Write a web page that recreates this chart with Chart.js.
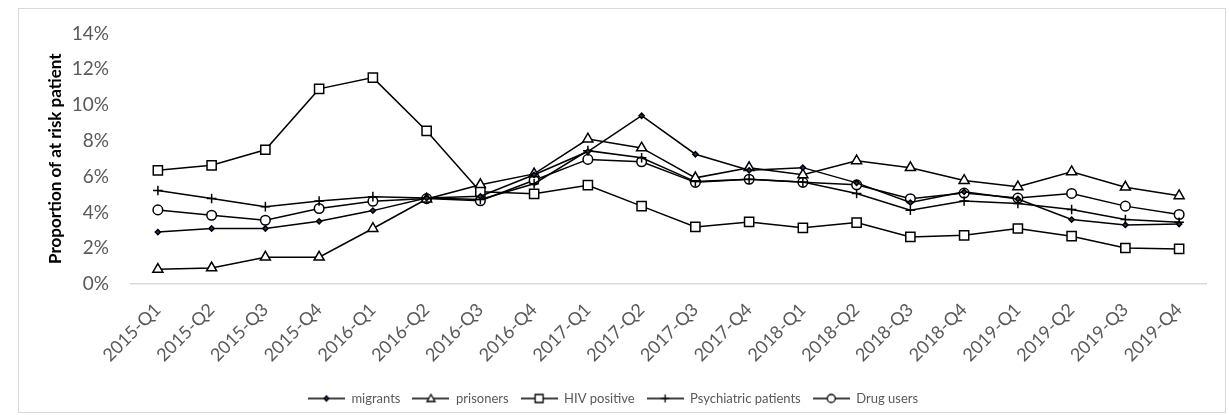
<!DOCTYPE html>
<html>
<head>
<meta charset="utf-8">
<script src="https://cdn.jsdelivr.net/npm/chart.js@4.4.1/dist/chart.umd.min.js"></script>
<style>
  html, body { margin: 0; padding: 0; background: #fff; }
  #wrap { position: relative; width: 1229px; height: 415px; }
  #frame { position: absolute; left: 18px; top: 8px; width: 1208px; height: 405px; border: 1px solid #d9d9d9; box-sizing: border-box; pointer-events: none; }
  canvas { position: absolute; left: 0; top: 0; }
</style>
</head>
<body>
<div id="wrap">
  <canvas id="lineChart" width="1229" height="415"></canvas>
  <div id="frame"></div>
</div>
<script>
// Quarters on the x axis
const quarters = [
  "2015-Q1", "2015-Q2", "2015-Q3", "2015-Q4",
  "2016-Q1", "2016-Q2", "2016-Q3", "2016-Q4",
  "2017-Q1", "2017-Q2", "2017-Q3", "2017-Q4",
  "2018-Q1", "2018-Q2", "2018-Q3", "2018-Q4",
  "2019-Q1", "2019-Q2", "2019-Q3", "2019-Q4"
];

// Values in percent
const migrants = [2.9, 3.1, 3.1, 3.5, 4.1, 4.8, 4.9, 6.1, 7.4, 9.4, 7.25, 6.35, 6.5, 5.65, 4.55, 5.15, 4.75, 3.6, 3.3, 3.35];
const prisoners = [0.82, 0.9, 1.5, 1.5, 3.1, 4.75, 5.55, 6.15, 8.1, 7.6, 5.93, 6.5, 6.1, 6.88, 6.5, 5.78, 5.43, 6.27, 5.41, 4.93];
const hivPositive = [6.35, 6.63, 7.5, 10.9, 11.53, 8.55, 5.15, 5.04, 5.52, 4.35, 3.19, 3.47, 3.14, 3.43, 2.63, 2.72, 3.1, 2.67, 2.01, 1.96];
const psychiatric = [5.22, 4.78, 4.32, 4.64, 4.88, 4.8, 4.72, 5.6, 7.45, 7.05, 5.72, 5.85, 5.7, 5.06, 4.12, 4.64, 4.5, 4.16, 3.6, 3.45];
const drugUsers = [4.14, 3.84, 3.56, 4.22, 4.62, 4.77, 4.65, 5.8, 6.96, 6.83, 5.68, 5.85, 5.68, 5.54, 4.76, 5.08, 4.8, 5.06, 4.35, 3.88];

// Y axis ticks (percent)
const yMin = 0;
const yMax = 14;
const yStep = 2;

Chart.defaults.font.family = "Lato";

// Legend sample: short line with the marker in the middle
function legendSample(style, fill) {
  const c = document.createElement("canvas");
  c.width = 37;
  c.height = 14;
  const ctx = c.getContext("2d");
  ctx.strokeStyle = "#000";
  ctx.lineWidth = 1.5;
  ctx.beginPath();
  ctx.moveTo(0, 7);
  ctx.lineTo(37, 7);
  ctx.stroke();
  ctx.fillStyle = fill;
  ctx.lineWidth = 1.3;
  ctx.beginPath();
  if (style === "diamond") {
    ctx.moveTo(18.5, 4.5); ctx.lineTo(21, 7); ctx.lineTo(18.5, 9.5); ctx.lineTo(16, 7); ctx.closePath();
  } else if (style === "triangle") {
    ctx.moveTo(18.5, 3); ctx.lineTo(22.5, 10); ctx.lineTo(14.5, 10); ctx.closePath();
  } else if (style === "square") {
    ctx.rect(14.5, 3, 8, 8);
  } else if (style === "circle") {
    ctx.arc(18.5, 7, 4, 0, Math.PI * 2);
  }
  if (style === "cross") {
    ctx.moveTo(14.5, 7); ctx.lineTo(22.5, 7);
    ctx.moveTo(18.5, 3); ctx.lineTo(18.5, 11);
    ctx.stroke();
  } else {
    ctx.fill();
    ctx.stroke();
  }
  return c;
}

const legendImages = [
  legendSample("diamond", "#1f3864"),
  legendSample("triangle", "#fff"),
  legendSample("square", "#fff"),
  legendSample("cross", "#fff"),
  legendSample("circle", "#fff")
];

function series(label, data, pointStyle, radius, fill) {
  return {
    label: label,
    data: data,
    borderColor: "#000",
    borderWidth: 1.5,
    pointStyle: pointStyle,
    pointRadius: radius,
    pointHoverRadius: radius,
    pointBackgroundColor: fill,
    pointBorderColor: "#000",
    pointBorderWidth: 1.5,
    tension: 0,
    fill: false
  };
}

const data1 = {
  labels: quarters,
  datasets: [
    series("migrants", migrants, "rectRot", 2.6, "#1f3864"),
    series("prisoners", prisoners, "triangle", 5.8, "#fff"),
    series("HIV positive", hivPositive, "rect", 6.5, "#fff"),
    series("Psychiatric patients", psychiatric, "cross", 4.8, "#fff"),
    series("Drug users", drugUsers, "circle", 4.8, "#fff")
  ]
};

const config1 = {
  type: "line",
  data: data1,
  options: {
    responsive: false,
    animation: false,
    layout: { padding: { left: 20, right: 23, top: 33, bottom: 0 } },
    plugins: {
      tooltip: { enabled: false },
      legend: {
        position: "bottom",
        labels: {
          usePointStyle: true,
          pointStyleWidth: 37,
          padding: 12,
          color: "#595959",
          font: { size: 13 },
          generateLabels: (chart) => {
            const items = Chart.defaults.plugins.legend.labels.generateLabels(chart);
            items.forEach((item, i) => { item.pointStyle = legendImages[i]; });
            return items;
          }
        }
      }
    },
    scales: {
      x: {
        offset: true,
        grid: { display: false, drawTicks: false },
        border: { display: true, color: "#d9d9d9", width: 1.5 },
        ticks: {
          color: "#595959",
          font: { size: 18 },
          autoSkip: false,
          maxRotation: 45,
          minRotation: 45,
          padding: 15
        },
        afterFit: (scale) => { scale.height = 96; }
      },
      y: {
        min: yMin,
        max: yMax,
        grid: { display: false, drawTicks: false },
        border: { display: false },
        ticks: {
          stepSize: yStep,
          color: "#595959",
          font: { size: 19 },
          padding: 22,
          callback: (v) => v + "%"
        },
        title: {
          display: true,
          text: "Proportion of at risk patient",
          color: "#000",
          font: { size: 17, weight: "bold" },
          padding: { top: 25, bottom: 0 }
        },
        afterFit: (scale) => { scale.width = 111; }
      }
    }
  }
};

const myLineChart = new Chart(document.getElementById("lineChart"), config1);
</script>
</body>
</html>
